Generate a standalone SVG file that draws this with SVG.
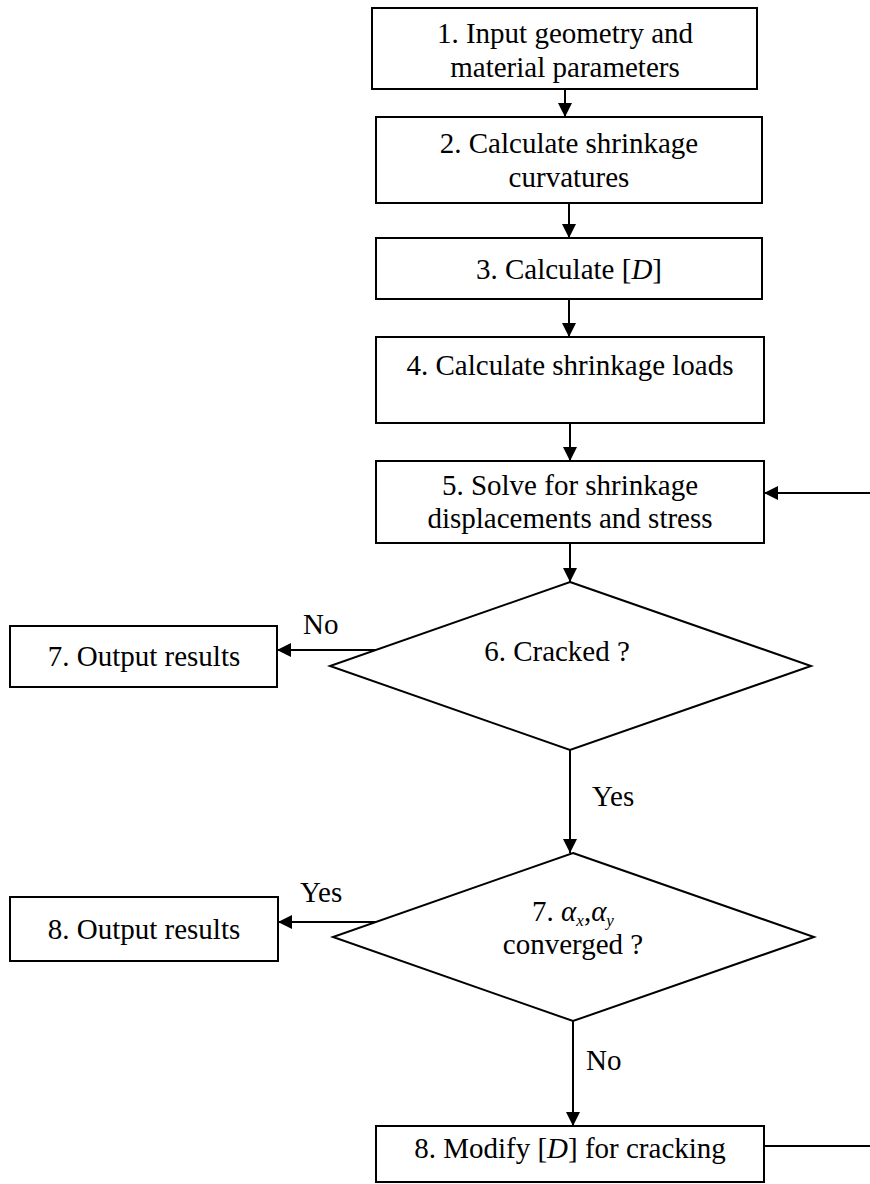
<svg xmlns="http://www.w3.org/2000/svg" width="870" height="1184" viewBox="0 0 870 1184">
<style>
.box{fill:#fff;stroke:#000;stroke-width:2}
.t{font-family:"Liberation Serif","Times New Roman",serif;font-size:29px;fill:#000;text-anchor:middle}
.lbl{font-family:"Liberation Serif","Times New Roman",serif;font-size:29px;fill:#000}
.c{fill:none;stroke:#000;stroke-width:2}
.i{font-style:italic}
</style>
<defs>
<marker id="ah" viewBox="0 0 14 14" refX="14" refY="7" markerWidth="14" markerHeight="14" markerUnits="userSpaceOnUse" orient="auto">
<path d="M0,0 L14,7 L0,14 Z" fill="#000"/>
</marker>
</defs>
<rect width="870" height="1184" fill="#fff"/>
<g id="connectors">
<line class="c" x1="565" y1="89" x2="565" y2="117" marker-end="url(#ah)"/>
<line class="c" x1="569" y1="203" x2="569" y2="238" marker-end="url(#ah)"/>
<line class="c" x1="569" y1="299" x2="569" y2="337" marker-end="url(#ah)"/>
<line class="c" x1="570" y1="423" x2="570" y2="461" marker-end="url(#ah)"/>
<line class="c" x1="570" y1="543" x2="570" y2="582" marker-end="url(#ah)"/>
<line class="c" x1="376" y1="650" x2="277" y2="650" marker-end="url(#ah)"/>
<line class="c" x1="570" y1="750" x2="570" y2="853" marker-end="url(#ah)"/>
<line class="c" x1="377" y1="922" x2="278" y2="922" marker-end="url(#ah)"/>
<line class="c" x1="573" y1="1021" x2="573" y2="1126" marker-end="url(#ah)"/>
<path class="c" d="M764,1146 L874,1146 L874,493 L764,493" marker-end="url(#ah)"/>
<text class="lbl" x="303" y="634">No</text>
<text class="lbl" x="592" y="806">Yes</text>
<text class="lbl" x="300" y="902">Yes</text>
<text class="lbl" x="586" y="1070">No</text>
</g>
<g id="n1">
<rect class="box" x="372" y="8" width="385" height="81"/>
<text class="t" x="565" y="43">1. Input geometry and</text>
<text class="t" x="565" y="77">material parameters</text>
</g>
<g id="n2">
<rect class="box" x="376" y="117" width="386" height="86"/>
<text class="t" x="569" y="153">2. Calculate shrinkage</text>
<text class="t" x="569" y="187">curvatures</text>
</g>
<g id="n3">
<rect class="box" x="376" y="238" width="386" height="61"/>
<text class="t" x="569" y="279">3. Calculate [<tspan class="i">D</tspan>]</text>
</g>
<g id="n4">
<rect class="box" x="376" y="337" width="388" height="86"/>
<text class="t" x="570" y="375">4. Calculate shrinkage loads</text>
</g>
<g id="n5">
<rect class="box" x="376" y="461" width="388" height="82"/>
<text class="t" x="570" y="495">5. Solve for shrinkage</text>
<text class="t" x="570" y="528">displacements and stress</text>
</g>
<g id="n6">
<polygon class="box" points="570,582 811,666 570,750 330,666"/>
<text class="t" x="557" y="661">6. Cracked ?</text>
</g>
<g id="n7out">
<rect class="box" x="10" y="626" width="267" height="61"/>
<text class="t" x="144" y="666">7. Output results</text>
</g>
<g id="n7">
<polygon class="box" points="573,853 814,937 573,1021 333,937"/>
<text class="t" x="573" y="921">7. <tspan class="i">α</tspan><tspan class="i" font-size="17" dy="5">x</tspan><tspan dy="-5">,</tspan><tspan class="i">α</tspan><tspan class="i" font-size="17" dy="5">y</tspan></text>
<text class="t" x="573" y="954">converged ?</text>
</g>
<g id="n8out">
<rect class="box" x="10" y="897" width="268" height="64"/>
<text class="t" x="144" y="939">8. Output results</text>
</g>
<g id="n8">
<rect class="box" x="376" y="1126" width="388" height="56"/>
<text class="t" x="570" y="1158">8. Modify [<tspan class="i">D</tspan>] for cracking</text>
</g>
</svg>
